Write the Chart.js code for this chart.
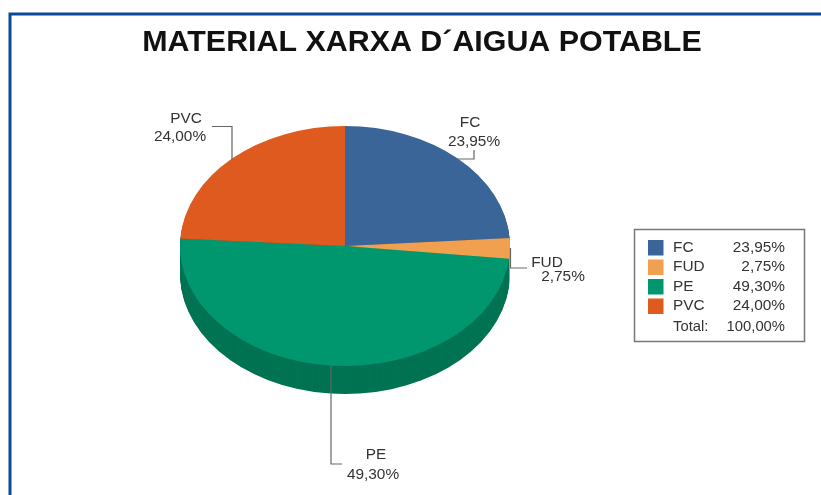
<!DOCTYPE html>
<html><head><meta charset="utf-8">
<style>html,body{margin:0;padding:0;background:#fff;overflow:hidden}canvas{display:block;filter:blur(0.5px)}</style>
<script src="https://cdn.jsdelivr.net/npm/chart.js@4"></script>
</head><body><div style="width:821px;height:495px"><canvas id="c" width="821" height="495"></canvas></div>
<script>
const chartTitle = "MATERIAL XARXA D´AIGUA POTABLE";
const categories = ["FC", "FUD", "PE", "PVC"];
const values = [23.95, 2.75, 49.30, 24.00];
const valueLabels = ["23,95%", "2,75%", "49,30%", "24,00%"];
const totalLabel = "Total:";
const totalValue = "100,00%";
const topColors = ["#3A6599", "#F0A04F", "#00966E", "#DE5A1E"];
const sideColors = ["#2C4D75", "#DE9445", "#007353", "#A9441A"];

const FONT = '"Liberation Sans", Arial, sans-serif';
const SQUASH = 120 / 165, DEPTH = 28;

const pie3d = {
  id: "pie3d",
  beforeDatasetsDraw(chart) {
    const ctx = chart.ctx, arcs = chart.getDatasetMeta(0).data;
    const cx = arcs[0].x, cy = arcs[0].y;
    ctx.save();
    for (let d = DEPTH; d >= 1; d--) {
      arcs.forEach((a, i) => {
        ctx.save();
        ctx.translate(cx, cy + d);
        ctx.scale(1, SQUASH);
        ctx.beginPath();
        ctx.moveTo(0, 0);
        ctx.arc(0, 0, a.outerRadius, a.startAngle, a.endAngle);
        ctx.closePath();
        ctx.fillStyle = sideColors[i];
        ctx.fill();
        ctx.restore();
      });
    }
    ctx.restore();
    ctx.save();
    ctx.translate(cx, cy);
    ctx.scale(1, SQUASH);
    ctx.translate(-cx, -cy);
  },
  afterDatasetsDraw(chart) {
    const ctx = chart.ctx;
    ctx.restore();

    ctx.save();
    ctx.strokeStyle = "#0B4A9B";
    ctx.lineWidth = 3;
    ctx.beginPath();
    ctx.moveTo(10, 500); ctx.lineTo(10, 14); ctx.lineTo(830, 14);
    ctx.stroke();

    ctx.fillStyle = "#111";
    ctx.font = "bold 30.4px " + FONT;
    ctx.textAlign = "center"; ctx.textBaseline = "middle";
    ctx.fillText(chartTitle, 422, 43);

    ctx.strokeStyle = "#666"; ctx.lineWidth = 1.2;
    [[[212,126.5],[232,126.5],[232,160]],
     [[474,150],[474,159],[457,159]],
     [[510.5,248],[510.5,268],[527,268]],
     [[331,365],[331,464],[342,464]]].forEach(p => {
      ctx.beginPath();
      ctx.moveTo(p[0][0], p[0][1]);
      p.slice(1).forEach(q => ctx.lineTo(q[0], q[1]));
      ctx.stroke();
    });

    ctx.fillStyle = "#333";
    ctx.font = "15.4px " + FONT;
    const pos = [[[470,122.5],[474,142]], [[547,262.5],[563,276.5]], [[376,455],[373,475]], [[186,118.5],[180,137]]];
    categories.forEach((c, i) => {
      ctx.fillText(c, pos[i][0][0], pos[i][0][1]);
      ctx.fillText(valueLabels[i], pos[i][1][0], pos[i][1][1]);
    });

    ctx.strokeStyle = "#777"; ctx.lineWidth = 1.5;
    ctx.strokeRect(634.5, 229.5, 170, 112);
    const rows = [247.5, 267, 286.5, 306];
    categories.forEach((c, i) => {
      ctx.fillStyle = topColors[i];
      ctx.fillRect(648, rows[i] - 7.5, 15.5, 15.5);
      ctx.fillStyle = "#333";
      ctx.font = "15.4px " + FONT;
      ctx.textAlign = "left";
      ctx.fillText(c, 673, rows[i]);
      ctx.textAlign = "right";
      ctx.fillText(valueLabels[i], 785, rows[i]);
    });
    ctx.font = "14.8px " + FONT;
    ctx.fillStyle = "#333";
    ctx.textAlign = "left";
    ctx.fillText(totalLabel, 673, 326.5);
    ctx.textAlign = "right";
    ctx.fillText(totalValue, 785, 326.5);
    ctx.restore();
  }
};

new Chart(document.getElementById("c"), {
  type: "pie",
  data: {
    labels: categories,
    datasets: [{ data: values, backgroundColor: topColors, borderWidth: 0, radius: 165 }]
  },
  options: {
    responsive: false,
    animation: false,
    layout: { padding: { left: 0, right: 131, top: 0, bottom: 3 } },
    plugins: { legend: { display: false }, tooltip: { enabled: false }, title: { display: false } }
  },
  plugins: [pie3d]
});
</script>
</body></html>
